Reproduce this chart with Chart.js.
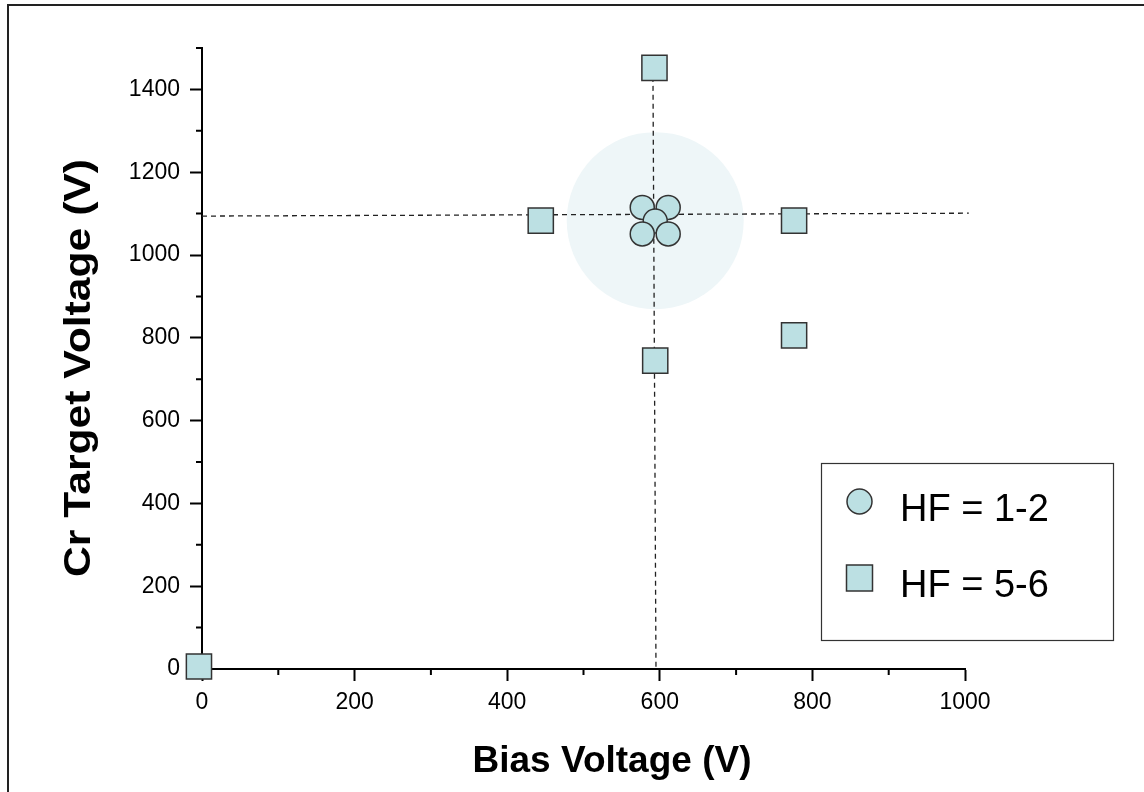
<!DOCTYPE html>
<html>
<head>
<meta charset="utf-8">
<script src="https://cdn.jsdelivr.net/npm/chart.js@4.4.0/dist/chart.umd.min.js"></script>
<style>
  html, body { margin: 0; padding: 0; background: #fff; }
  #wrap { width: 1144px; height: 792px; }
</style>
</head>
<body>
<div id="wrap"><canvas id="biasChart" width="1144" height="792"></canvas></div>
<script>
// HF = 1-2 runs (circles), drawn in this order
const lowHfX = [577, 611, 594, 577, 611];
const lowHfY = [1115, 1115, 1082, 1051, 1051];

// HF = 5-6 runs (squares)
const highHfX = [-4, 444, 593, 776, 776, 594];
const highHfY = [6, 1083, 1452, 1083, 806, 745];

// dashed guide lines through the optimum
const hLineX = [0, 1005];
const hLineY = [1094, 1101];
const vLineX = [591, 595];
const vLineY = [1452, 0];

// shaded optimum zone
const zoneX = [594];
const zoneY = [1083];

const xTicks = [0, 200, 400, 600, 800, 1000];
const yTicks = [0, 200, 400, 600, 800, 1000, 1200, 1400];

const legendItems = ["HF = 1-2", "HF = 5-6"];
const xTitle = "Bias Voltage (V)";
const yTitle = "Cr Target Voltage (V)";

const FONT = "'Liberation Sans', Arial, sans-serif";
const FILL = "#bce0e3";
const EDGE = "#333333";

const toPoints = (xs, ys) => xs.map((x, i) => ({ x: x, y: ys[i] }));

// frame, minor ticks, axis titles and the boxed legend
const extras = {
  id: "extras",
  beforeDraw(chart) {
    const c = chart.ctx;
    c.save();
    c.fillStyle = "#fff";
    c.fillRect(0, 0, chart.width, chart.height);
    c.fillStyle = "#222";
    c.fillRect(7, 4, 2, chart.height);
    c.fillRect(7, 4, chart.width, 2);
    c.restore();
  },
  afterDraw(chart) {
    const c = chart.ctx;
    const xs = chart.scales.x;
    const ys = chart.scales.y;
    c.save();

    // minor ticks
    c.strokeStyle = "#000";
    c.lineWidth = 2;
    c.beginPath();
    xs.ticks.forEach((t) => {
      if (t.value % 200 !== 0) {
        const px = xs.getPixelForValue(t.value);
        c.moveTo(px, xs.top);
        c.lineTo(px, xs.top + 6);
      }
    });
    ys.ticks.forEach((t) => {
      if (t.value % 200 !== 0) {
        const py = ys.getPixelForValue(t.value);
        c.moveTo(ys.right, py);
        c.lineTo(ys.right - 6, py);
      }
    });
    c.stroke();

    // axis titles
    c.fillStyle = "#000";
    c.font = "bold 37px " + FONT;
    c.textAlign = "center";
    c.textBaseline = "alphabetic";
    c.fillText(xTitle, 612, 772);
    // the y title is stretched along its length in the original
    const stretch = 418 / c.measureText(yTitle).width;
    c.translate(90, 368);
    c.rotate(-Math.PI / 2);
    c.scale(stretch, 1);
    c.fillText(yTitle, 0, 0);
    c.setTransform(1, 0, 0, 1, 0, 0);

    // legend box
    c.strokeStyle = EDGE;
    c.lineWidth = 1.2;
    c.strokeRect(821.5, 463.5, 292, 177);

    c.fillStyle = FILL;
    c.lineWidth = 1.5;
    c.beginPath();
    c.arc(859.5, 501.5, 12.5, 0, Math.PI * 2);
    c.fill();
    c.stroke();
    c.fillRect(846.5, 565, 26, 26);
    c.strokeRect(846.5, 565, 26, 26);

    c.fillStyle = "#000";
    c.font = "38px " + FONT;
    c.textAlign = "left";
    c.fillText(legendItems[0], 900, 521);
    c.fillText(legendItems[1], 900, 597);
    c.restore();
  },
};

const ctx = document.getElementById("biasChart").getContext("2d");
const chart = new Chart(ctx, {
  type: "scatter",
  data: {
    datasets: [
      {
        label: legendItems[0],
        data: toPoints(lowHfX, lowHfY),
        pointStyle: "circle",
        pointRadius: 12,
        backgroundColor: FILL,
        borderColor: EDGE,
        borderWidth: 1.5,
        clip: false,
      },
      {
        label: legendItems[1],
        data: toPoints(highHfX, highHfY),
        pointStyle: "rect",
        pointRadius: 17.8,
        backgroundColor: FILL,
        borderColor: EDGE,
        borderWidth: 1.5,
        clip: false,
      },
      {
        label: "h-guide",
        data: toPoints(hLineX, hLineY),
        showLine: true,
        borderColor: "#222",
        borderWidth: 1.3,
        borderDash: [5, 4],
        pointRadius: 0,
        clip: false,
      },
      {
        label: "v-guide",
        data: toPoints(vLineX, vLineY),
        showLine: true,
        borderColor: "#222",
        borderWidth: 1.3,
        borderDash: [5, 4],
        pointRadius: 0,
        clip: false,
      },
      {
        label: "zone",
        data: toPoints(zoneX, zoneY),
        pointRadius: 88.5,
        backgroundColor: "#eef6f8",
        borderWidth: 0,
        clip: false,
      },
    ],
  },
  options: {
    responsive: false,
    animation: false,
    events: [],
    layout: { autoPadding: false, padding: { left: 0, top: 48, right: 179, bottom: 0 } },
    plugins: {
      legend: { display: false },
      tooltip: { enabled: false },
    },
    scales: {
      x: {
        type: "linear",
        min: 0,
        max: 1000,
        afterFit: (s) => { s.height = 123; },
        border: { display: true, color: "#000", width: 2 },
        grid: {
          drawOnChartArea: false,
          tickLength: 12,
          tickWidth: 2,
          tickColor: (c) => (c.tick && c.tick.value % 200 === 0 ? "#000" : "rgba(0,0,0,0)"),
        },
        ticks: {
          stepSize: 100,
          padding: 8,
          color: "#000",
          font: { family: FONT, size: 23 },
          maxRotation: 0,
          autoSkip: false,
          callback: (v) => (xTicks.includes(v) ? String(v) : ""),
        },
      },
      y: {
        type: "linear",
        min: 0,
        max: 1500,
        afterFit: (s) => { s.width = 202; },
        border: { display: true, color: "#000", width: 2 },
        grid: {
          drawOnChartArea: false,
          tickLength: 12,
          tickWidth: 2,
          tickColor: (c) => (c.tick && c.tick.value % 200 === 0 ? "#000" : "rgba(0,0,0,0)"),
        },
        ticks: {
          stepSize: 100,
          padding: 10,
          color: "#000",
          font: { family: FONT, size: 23 },
          autoSkip: false,
          callback: (v) => (yTicks.includes(v) ? String(v) : ""),
        },
      },
    },
  },
  plugins: [extras],
});
</script>
</body>
</html>
